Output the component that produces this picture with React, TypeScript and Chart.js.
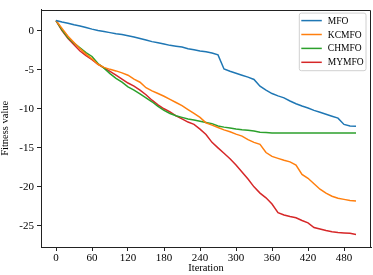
import { useEffect, useRef } from 'react';
import { Chart, registerables } from 'chart.js';

Chart.register(...registerables);

const iterations = [0, 10, 20, 30, 40, 50, 60, 70, 80, 90, 100, 110, 120, 130, 140, 150, 160, 170, 180, 190, 200, 210, 220, 230, 240, 250, 260, 270, 280, 290, 300, 310, 320, 330, 340, 350, 360, 370, 380, 390, 400, 410, 420, 430, 440, 450, 460, 470, 480, 490, 500];

const mfo = [1.3, 1.1, 0.95, 0.75, 0.6, 0.4, 0.2, 0.02, -0.1, -0.25, -0.4, -0.5, -0.65, -0.8, -1.0, -1.2, -1.4, -1.55, -1.7, -1.88, -1.98, -2.1, -2.3, -2.45, -2.6, -2.7, -2.85, -3.1, -4.9, -5.2, -5.45, -5.7, -5.95, -6.25, -7.1, -7.6, -8.05, -8.35, -8.6, -9.0, -9.35, -9.65, -9.9, -10.2, -10.45, -10.7, -10.95, -11.2, -12.0, -12.2, -12.25];

const kcmfo = [1.3, 0.3, -0.7, -1.5, -2.3, -3.0, -3.6, -4.3, -4.7, -4.95, -5.15, -5.4, -5.7, -6.2, -6.6, -7.3, -7.7, -8.05, -8.4, -8.8, -9.2, -9.6, -10.1, -10.6, -11.1, -11.8, -12.1, -12.4, -12.7, -12.95, -13.25, -13.5, -13.95, -14.3, -14.55, -15.6, -16.1, -16.35, -16.6, -16.8, -17.2, -18.4, -18.9, -19.6, -20.3, -20.8, -21.2, -21.45, -21.6, -21.75, -21.8];

const chmfo = [1.3, 0.1, -0.9, -1.6, -2.2, -2.8, -3.3, -4.2, -4.8, -5.5, -6.1, -6.6, -7.2, -7.6, -8.1, -8.6, -9.1, -9.7, -10.2, -10.6, -10.9, -11.1, -11.3, -11.45, -11.6, -11.75, -11.9, -12.2, -12.35, -12.45, -12.6, -12.7, -12.75, -12.85, -13.0, -13.05, -13.1, -13.1, -13.1, -13.1, -13.1, -13.1, -13.1, -13.1, -13.1, -13.1, -13.1, -13.1, -13.1, -13.1, -13.1];

const mymfo = [1.3, 0.0, -1.0, -1.8, -2.6, -3.2, -3.7, -4.3, -4.75, -5.2, -5.7, -6.2, -6.7, -7.1, -7.6, -8.2, -8.9, -9.5, -10.0, -10.4, -10.9, -11.3, -11.7, -12.0, -12.6, -13.3, -14.3, -15.0, -15.7, -16.4, -17.2, -18.1, -19.0, -20.0, -20.8, -21.4, -22.2, -23.3, -23.6, -23.8, -23.95, -24.3, -24.6, -25.2, -25.4, -25.6, -25.75, -25.85, -25.9, -25.95, -26.1];

const seriesLabels = ['MFO', 'KCMFO', 'CHMFO', 'MYMFO'];
const seriesColors = ['#1f77b4', '#ff7f0e', '#2ca02c', '#d62728'];
const xTicks = [0, 60, 120, 180, 240, 300, 360, 420, 480];
const yTicks = [0, -5, -10, -15, -20, -25];
const xTitle = 'Iteration';
const yTitle = 'Fitness value';

const FONT = '"Liberation Serif", "Times New Roman", serif';

const framePlugin = {
  id: 'frame',
  afterDatasetsDraw(chart: any) {
    const { ctx, chartArea } = chart;
    const { left, right, top, bottom } = chartArea;
    ctx.save();
    ctx.strokeStyle = '#222';
    ctx.lineWidth = 1;
    ctx.beginPath();
    ctx.moveTo(Math.round(left) + 0.5, Math.round(top) + 0.5);
    ctx.lineTo(Math.round(right) - 0.5, Math.round(top) + 0.5);
    ctx.lineTo(Math.round(right) - 0.5, Math.round(bottom) + 0.5);
    ctx.stroke();
    ctx.restore();
  },
};

const titlesPlugin = {
  id: 'axisTitles',
  afterDraw(chart: any) {
    const { ctx, chartArea } = chart;
    ctx.save();
    ctx.fillStyle = '#000';
    ctx.font = `10.5px ${FONT}`;
    ctx.textAlign = 'center';
    ctx.textBaseline = 'middle';
    ctx.fillText(xTitle, (chartArea.left + chartArea.right) / 2, 268);
    ctx.translate(5.5, (chartArea.top + chartArea.bottom) / 2);
    ctx.rotate(-Math.PI / 2);
    ctx.fillText(yTitle, 0, 0);
    ctx.restore();
  },
};

const legendPlugin = {
  id: 'boxLegend',
  afterDraw(chart: any) {
    const { ctx, chartArea } = chart;
    const boxRight = chartArea.right - 5;
    const boxLeft = boxRight - 66.7;
    const boxTop = chartArea.top + 3.5;
    const boxH = 57.6;
    ctx.save();
    ctx.beginPath();
    const r = 2;
    const x = boxLeft, y = boxTop, w = boxRight - boxLeft, h = boxH;
    ctx.moveTo(x + r, y);
    ctx.lineTo(x + w - r, y);
    ctx.quadraticCurveTo(x + w, y, x + w, y + r);
    ctx.lineTo(x + w, y + h - r);
    ctx.quadraticCurveTo(x + w, y + h, x + w - r, y + h);
    ctx.lineTo(x + r, y + h);
    ctx.quadraticCurveTo(x, y + h, x, y + h - r);
    ctx.lineTo(x, y + r);
    ctx.quadraticCurveTo(x, y, x + r, y);
    ctx.closePath();
    ctx.fillStyle = 'rgba(255,255,255,0.8)';
    ctx.fill();
    ctx.strokeStyle = '#d0d0d0';
    ctx.lineWidth = 1;
    ctx.stroke();
    ctx.font = `9.5px ${FONT}`;
    ctx.textBaseline = 'middle';
    ctx.textAlign = 'left';
    chart.data.datasets.forEach((ds: any, i: number) => {
      const cy = boxTop + 7.5 + i * 13.9;
      ctx.strokeStyle = ds.borderColor;
      ctx.lineWidth = 1.5;
      ctx.beginPath();
      ctx.moveTo(boxLeft + 2, cy);
      ctx.lineTo(boxLeft + 22.5, cy);
      ctx.stroke();
      ctx.fillStyle = '#000';
      ctx.fillText(ds.label, boxLeft + 28.5, cy + 0.5);
    });
    ctx.restore();
  },
};

export default function App() {
  const ref = useRef<HTMLCanvasElement>(null);
  useEffect(() => {
    if (!ref.current) return;
    const series = [mfo, kcmfo, chmfo, mymfo];
    const chart = new Chart(ref.current, {
      type: 'line',
      data: {
        datasets: series.map((vals, i) => ({
          label: seriesLabels[i],
          data: iterations.map((it, j) => ({ x: it, y: vals[j] })),
          borderColor: seriesColors[i],
          backgroundColor: seriesColors[i],
          borderWidth: 1.5,
          pointRadius: 0,
          tension: 0,
          fill: false,
        })),
      },
      options: {
        animation: false,
        responsive: false,
        layout: { padding: { left: 0, right: 2, top: 3, bottom: 0 } },
        plugins: { legend: { display: false }, tooltip: { enabled: false } },
        scales: {
          x: {
            type: 'linear',
            min: -25,
            max: 525,
            afterBuildTicks: (s: any) => { s.ticks = xTicks.map((v) => ({ value: v })); },
            afterFit: (s: any) => { s.height = 28; },
            ticks: { font: { family: FONT, size: 11 }, color: '#000', padding: 1, maxRotation: 0, autoSkip: false },
            grid: { display: true, drawOnChartArea: false, drawTicks: true, tickLength: 4, color: '#222' },
            border: { display: true, color: '#222', width: 1 },
          },
          y: {
            type: 'linear',
            min: -27.7,
            max: 2.7,
            afterBuildTicks: (s: any) => { s.ticks = yTicks.map((v) => ({ value: v })); },
            afterFit: (s: any) => { s.width = 41; },
            ticks: { font: { family: FONT, size: 11 }, color: '#000', padding: 3, autoSkip: false },
            grid: { display: true, drawOnChartArea: false, drawTicks: true, tickLength: 4, color: '#222' },
            border: { display: true, color: '#222', width: 1 },
          },
        },
      },
      plugins: [framePlugin, titlesPlugin, legendPlugin],
    } as any);
    return () => chart.destroy();
  }, []);
  return (
    <div style={{ position: 'absolute', left: 0, top: 0, width: 373, height: 275, background: '#fff' }}>
      <canvas ref={ref} width={373} height={275} />
    </div>
  );
}
